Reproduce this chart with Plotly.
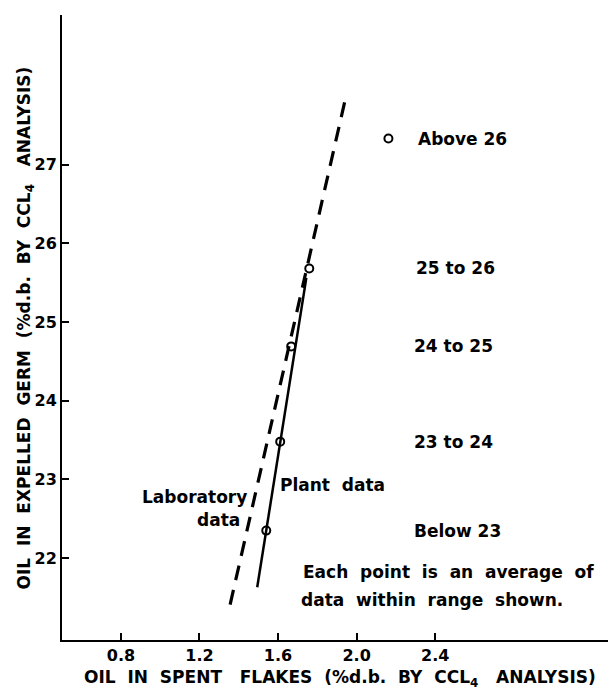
import plotly.graph_objects as go

# ---- data ----
x_ticks = [0.8, 1.2, 1.6, 2.0, 2.4]
x_tick_labels = ["0.8", "1.2", "1.6", "2.0", "2.4"]
y_ticks = [22, 23, 24, 25, 26, 27]
y_tick_labels = ["22", "23", "24", "25", "26", "27"]

plant_x = [1.540, 1.611, 1.667, 1.759, 2.162]
plant_y = [22.35, 23.48, 24.69, 25.68, 27.33]
range_labels = ["Below 23", "23 to 24", "24 to 25", "25 to 26", "Above 26"]
range_label_x = [2.28, 2.28, 2.28, 2.29, 2.30]

lab_line_x = [1.356, 1.948]
lab_line_y = [21.41, 27.89]
plant_line_x = [1.494, 1.744]
plant_line_y = [21.63, 25.56]

FONT = "DejaVu Sans"

fig = go.Figure()

fig.add_trace(go.Scatter(
    x=lab_line_x, y=lab_line_y, mode="lines",
    line=dict(color="black", width=3.2, dash="15px,10px"),
    hoverinfo="skip", showlegend=False))

fig.add_trace(go.Scatter(
    x=plant_line_x, y=plant_line_y, mode="lines",
    line=dict(color="black", width=2.5),
    hoverinfo="skip", showlegend=False))

fig.add_trace(go.Scatter(
    x=plant_x, y=plant_y, mode="markers",
    marker=dict(symbol="circle-open", size=8, color="black",
                line=dict(width=2, color="black")),
    showlegend=False))

ann_font = dict(family=FONT, size=17, color="black", weight="bold")
annotations = []
for lx, ly, txt in zip(range_label_x, plant_y, range_labels):
    annotations.append(dict(x=lx, y=ly, xref="x", yref="y", text=txt,
                            showarrow=False, xanchor="left", yanchor="middle",
                            font=ann_font))

annotations += [
    dict(x=1.450, y=22.78, xref="x", yref="y", text="Laboratory",
         showarrow=False, xanchor="right", yanchor="middle", font=ann_font),
    dict(x=1.417, y=22.49, xref="x", yref="y", text="data",
         showarrow=False, xanchor="right", yanchor="middle", font=ann_font),
    dict(x=1.598, y=22.93, xref="x", yref="y", text="Plant  data",
         showarrow=False, xanchor="left", yanchor="middle", font=ann_font),
    dict(x=1.715, y=21.82, xref="x", yref="y",
         text="Each  point  is  an  average  of",
         showarrow=False, xanchor="left", yanchor="middle", font=ann_font),
    dict(x=1.705, y=21.47, xref="x", yref="y",
         text="data  within  range  shown.",
         showarrow=False, xanchor="left", yanchor="middle", font=ann_font),
    # axis titles
    dict(x=-0.066, y=0.5, xref="paper", yref="paper",
         text="OIL  IN  EXPELLED  GERM  (%d.b.  BY  CCL<sub>4</sub>   ANALYSIS)",
         textangle=-90, showarrow=False, xanchor="center", yanchor="middle",
         font=ann_font),
    dict(x=0.51, y=-0.061, xref="paper", yref="paper",
         text="OIL  IN  SPENT   FLAKES  (%d.b.  BY  CCL<sub>4</sub>   ANALYSIS)",
         showarrow=False, xanchor="center", yanchor="middle",
         font=ann_font),
]

axis_common = dict(showline=True, linecolor="black", linewidth=2,
                   ticks="inside", ticklen=7, tickwidth=2, tickcolor="black",
                   showgrid=False, zeroline=False, mirror=False,
                   tickfont=dict(family=FONT, size=16, color="black", weight="bold"))

fig.update_layout(
    width=610, height=692,
    margin=dict(l=62, r=2, t=15, b=52, pad=0),
    paper_bgcolor="white", plot_bgcolor="white",
    xaxis=dict(range=[0.5, 3.28], tickvals=x_ticks, ticktext=x_tick_labels,
               **axis_common),
    yaxis=dict(range=[20.96, 28.9], tickvals=y_ticks, ticktext=y_tick_labels,
               **axis_common),
    annotations=annotations,
    showlegend=False,
)

fig.write_html("out.html")
